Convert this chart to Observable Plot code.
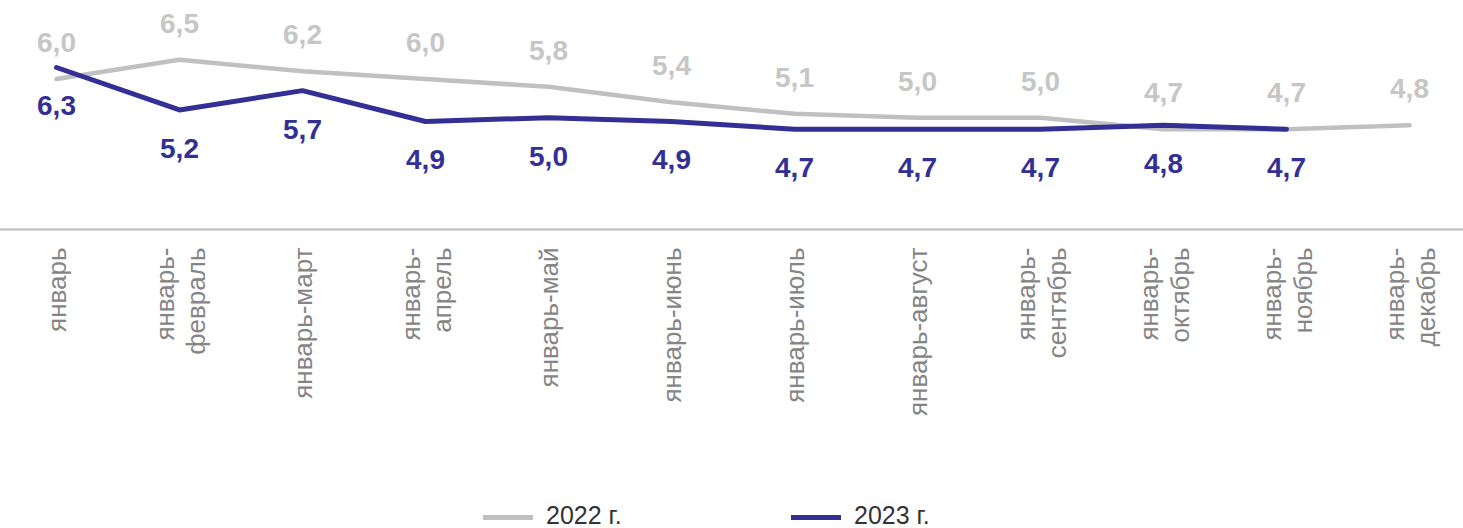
<!DOCTYPE html>
<html>
<head>
<meta charset="utf-8">
<script src="https://cdn.jsdelivr.net/npm/d3@7"></script>
<script src="https://cdn.jsdelivr.net/npm/@observablehq/plot@0.6"></script>
<style>
  html, body { margin: 0; padding: 0; background: #fff; }
  body { width: 1463px; height: 528px; overflow: hidden; position: relative; font-family: "Liberation Sans", Arial, sans-serif; }
  #legend { position: absolute; left: 0; top: 503px; width: 1463px; height: 25px; }
  .item { position: absolute; top: 0; height: 25px; line-height: 1; display: flex; align-items: center; font-size: 25px; color: #333; }
  .sw { display: inline-block; width: 50px; height: 5px; margin-right: 13px; position: relative; top: 2px; }
</style>
</head>
<body>
<div id="chart"></div>
<div id="legend"></div>
<script>
const categories = [
  "январь",
  "январь-\nфевраль",
  "январь-март",
  "январь-\nапрель",
  "январь-май",
  "январь-июнь",
  "январь-июль",
  "январь-август",
  "январь-\nсентябрь",
  "январь-\nоктябрь",
  "январь-\nноябрь",
  "январь-\nдекабрь"
];
const values2022 = [6.0, 6.5, 6.2, 6.0, 5.8, 5.4, 5.1, 5.0, 5.0, 4.7, 4.7, 4.8];
const values2023 = [6.3, 5.2, 5.7, 4.9, 5.0, 4.9, 4.7, 4.7, 4.7, 4.8, 4.7];
const seriesNames = ["2022 г.", "2023 г."];
const colors = ["#c0c0c0", "#332f94"];

const fmt = v => d3.format(".1f")(v).replace(".", ",");
const d22 = values2022.map((v, i) => ({cat: categories[i], v}));
const d23 = values2023.map((v, i) => ({cat: categories[i], v}));

const W = 1463, H = 495, ML = 54, MR = 52;
const chart = Plot.plot({
  width: W,
  height: H,
  marginTop: 40,
  marginBottom: 266,
  marginLeft: ML,
  marginRight: MR,
  style: {fontFamily: "'Liberation Sans', Arial, sans-serif", background: "#fff"},
  x: {type: "point", domain: categories, padding: 0, label: null},
  y: {domain: [2.1, 7], axis: null},
  marks: [
    Plot.axisX({tickSize: 0, tickPadding: 18, tickRotate: -90, fontSize: 26, lineHeight: 1.18, fill: "#858585", label: null}),
    Plot.ruleY([2.1], {stroke: "#c6c6c6", strokeWidth: 2.5, insetLeft: -ML, insetRight: -MR}),
    Plot.line(d22, {x: "cat", y: "v", stroke: colors[0], strokeWidth: 4.5, strokeLinecap: "round", strokeLinejoin: "round"}),
    Plot.line(d23, {x: "cat", y: "v", stroke: colors[1], strokeWidth: 5, strokeLinecap: "round", strokeLinejoin: "round"}),
    Plot.text(d22, {x: "cat", y: "v", text: d => fmt(d.v), dy: -36, fill: "#c6c6c6", fontSize: 28, fontWeight: "bold"}),
    Plot.text(d23, {x: "cat", y: "v", text: d => fmt(d.v), dy: 39, fill: colors[1], fontSize: 28, fontWeight: "bold"})
  ]
});
document.getElementById("chart").append(chart);

const legend = document.getElementById("legend");
const lx = [483, 791];
seriesNames.forEach((name, i) => {
  const it = document.createElement("div");
  it.className = "item";
  it.style.left = lx[i] + "px";
  const sw = document.createElement("span");
  sw.className = "sw";
  sw.style.background = colors[i];
  it.append(sw, document.createTextNode(name));
  legend.append(it);
});
</script>
</body>
</html>
